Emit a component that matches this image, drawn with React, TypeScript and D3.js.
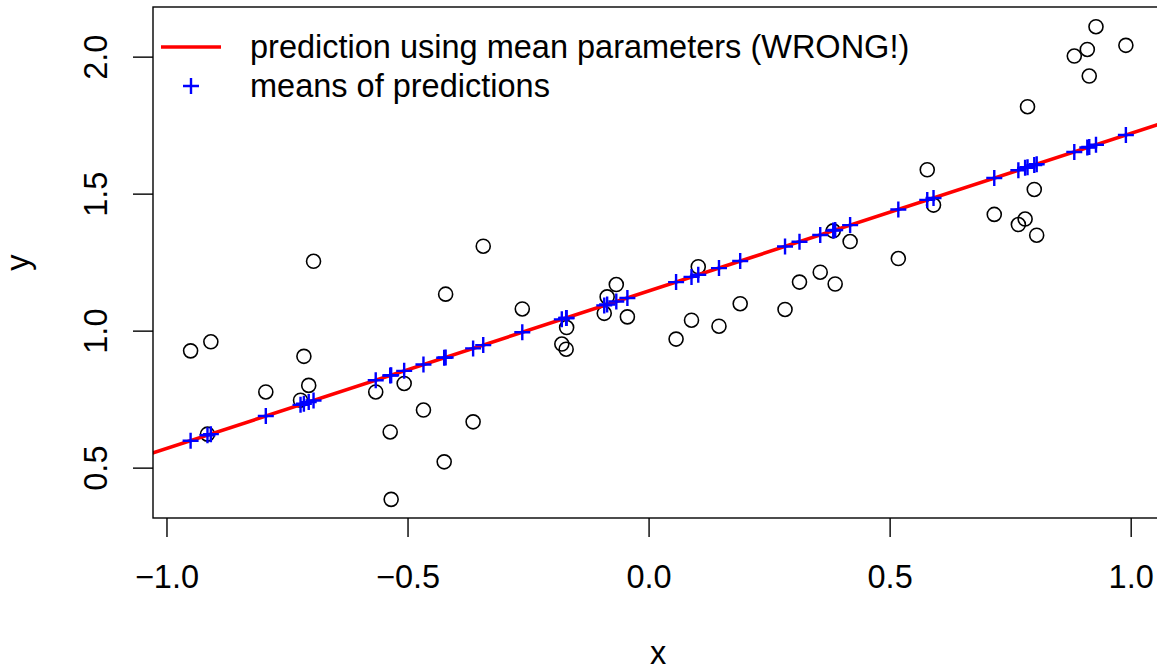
import React from "react";
import * as d3 from "d3";

// observed data (x, y)
const xValues = [
  -0.951, -0.916, -0.909, -0.795, -0.723, -0.716, -0.706, -0.696, -0.567, -0.537,
  -0.535, -0.508, -0.468, -0.425, -0.422, -0.365, -0.344, -0.263, -0.181, -0.172,
  -0.171, -0.093, -0.087, -0.068, -0.045, 0.056, 0.088, 0.102, 0.145, 0.189,
  0.282, 0.312, 0.355, 0.382, 0.386, 0.417, 0.517, 0.577, 0.59, 0.716,
  0.766, 0.78, 0.785, 0.799, 0.804, 0.882, 0.909, 0.913, 0.927, 0.989,
];
const yObserved = [
  0.928, 0.624, 0.961, 0.778, 0.748, 0.908, 0.802, 1.255, 0.778, 0.632,
  0.386, 0.809, 0.712, 0.523, 1.135, 0.669, 1.31, 1.081, 0.953, 0.934,
  1.013, 1.065, 1.125, 1.17, 1.052, 0.971, 1.04, 1.235, 1.018, 1.1,
  1.079, 1.179, 1.215, 1.366, 1.172, 1.327, 1.265, 1.589, 1.46, 1.426,
  1.389, 1.409, 1.819, 1.517, 1.35, 2.004, 2.028, 1.931, 2.111, 2.043,
];
// means of predictions at each x
const yMeanPred = [
  0.6, 0.62, 0.624, 0.69, 0.731, 0.735, 0.741, 0.747, 0.821, 0.838,
  0.839, 0.855, 0.878, 0.903, 0.904, 0.937, 0.949, 0.996, 1.043, 1.048,
  1.048, 1.094, 1.097, 1.108, 1.121, 1.179, 1.198, 1.206, 1.23, 1.256,
  1.309, 1.326, 1.351, 1.367, 1.369, 1.387, 1.444, 1.479, 1.486, 1.559,
  1.587, 1.596, 1.598, 1.606, 1.609, 1.654, 1.67, 1.672, 1.68, 1.716,
];
// prediction using mean parameters: intercept, slope
const meanParams = [1.147, 0.575];

const xTicks = [-1.0, -0.5, 0.0, 0.5, 1.0];
const yTicks = [0.5, 1.0, 1.5, 2.0];
const xDomain = [-1.029, 1.066];
const yDomain = [0.318, 2.183];

const legendLabels = ["prediction using mean parameters (WRONG!)", "means of predictions"];

const W = 1157;
const H = 671;
const left = 153;
const right = 1163;
const top = 7;
const bottom = 518;
const FONT = "'Liberation Sans', Arial, Helvetica, sans-serif";
const FS = 32.5;

const fmt = (v: number) => (v < 0 ? "\u2212" : "") + Math.abs(v).toFixed(1);

export default function App() {
  const x = d3.scaleLinear().domain(xDomain).range([left, right]);
  const y = d3.scaleLinear().domain(yDomain).range([bottom, top]);
  const [a, b] = meanParams;
  const lx = [xDomain[0] - 0.1, xDomain[1] + 0.1];
  const lineGen = d3
    .line<number>()
    .x((d) => x(d))
    .y((d) => y(a + b * d));
  const pl = 8;

  return (
    <svg
      width={W}
      height={H}
      style={{ position: "absolute", left: 0, top: 0, background: "#fff" }}
      fontFamily={FONT}
    >
      <defs>
        <clipPath id="plotclip">
          <rect x={left} y={top} width={right - left} height={bottom - top} />
        </clipPath>
      </defs>
      <rect x={0} y={0} width={W} height={H} fill="#fff" />
      <g clipPath="url(#plotclip)">
        {xValues.map((xv, i) => (
          <circle
            key={"c" + i}
            cx={x(xv)}
            cy={y(yObserved[i])}
            r={7}
            fill="none"
            stroke="#000"
            strokeWidth={1.6}
          />
        ))}
        <path d={lineGen(lx) || ""} stroke="#ff0000" strokeWidth={3.6} fill="none" />
        {xValues.map((xv, i) => {
          const cx = x(xv);
          const cy = y(yMeanPred[i]);
          return (
            <path
              key={"p" + i}
              d={`M${cx - pl},${cy}H${cx + pl}M${cx},${cy - pl}V${cy + pl}`}
              stroke="#0000ff"
              strokeWidth={2.4}
              fill="none"
            />
          );
        })}
      </g>
      {/* box */}
      <rect
        x={left}
        y={top}
        width={right - left}
        height={bottom - top}
        fill="none"
        stroke="#000"
        strokeWidth={1.4}
      />
      {/* x axis */}
      {xTicks.map((t) => (
        <g key={"xt" + t}>
          <line x1={x(t)} x2={x(t)} y1={bottom} y2={bottom + 19} stroke="#000" strokeWidth={1.4} />
          <text x={x(t)} y={588} textAnchor="middle" fontSize={FS} fill="#000">
            {fmt(t)}
          </text>
        </g>
      ))}
      {/* y axis */}
      {yTicks.map((t) => (
        <g key={"yt" + t}>
          <line x1={left - 20} x2={left} y1={y(t)} y2={y(t)} stroke="#000" strokeWidth={1.4} />
          <text
            transform={`translate(107,${y(t)}) rotate(-90)`}
            textAnchor="middle"
            fontSize={FS}
            fill="#000"
          >
            {fmt(t)}
          </text>
        </g>
      ))}
      <text x={(left + right) / 2} y={664} textAnchor="middle" fontSize={FS} fill="#000">
        x
      </text>
      <text
        transform={`translate(29,${(top + bottom) / 2}) rotate(-90)`}
        textAnchor="middle"
        fontSize={FS}
        fill="#000"
      >
        y
      </text>
      {/* legend */}
      <line x1={161} x2={221} y1={47} y2={47} stroke="#ff0000" strokeWidth={3.6} />
      <text x={250} y={58} fontSize={FS} fill="#000">
        {legendLabels[0]}
      </text>
      <path d={`M${191 - pl},86H${191 + pl}M191,${86 - pl}V${86 + pl}`} stroke="#0000ff" strokeWidth={2.4} />
      <text x={250} y={97} fontSize={FS} fill="#000">
        {legendLabels[1]}
      </text>
    </svg>
  );
}
